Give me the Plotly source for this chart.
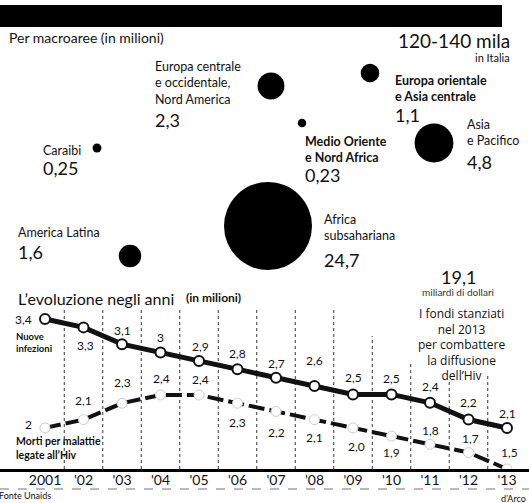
import plotly.graph_objects as go

W, H = 529, 503
FONT = "Lato"
INK = "#111111"

# People living with HIV by macro-area (millions)
regions = [
    ["Europa centrale", "e occidentale,", "Nord America"],
    ["Europa orientale", "e Asia centrale"],
    ["Caraibi"],
    ["Medio Oriente", "e Nord Africa"],
    ["Asia", "e Pacifico"],
    ["America Latina"],
    ["Africa", "subsahariana"],
]
people = [2.3, 1.1, 0.25, 0.23, 4.8, 1.6, 24.7]
bold_names = [False, True, False, True, False, False, False]

# Bubble placement on the map-like layout (page pixels)
bubble_x = [271, 370, 97, 302, 434, 130, 268]
bubble_y = [86, 73, 148, 123, 143, 256, 226]
# Label block placement: left x, vertical centre of the name block, y of the value
label_x = [153, 393, 41, 303, 465, 16, 322]
label_name_y = [83, 88, 150, 149.5, 132.5, 232, 227.5]
label_value_y = [120, 115, 168, 175, 162, 252, 260]

# Yearly trend (millions)
years = list(range(2001, 2014))
year_labels = ["2001"] + ["'%02d" % (y % 100) for y in years[1:]]
new_infections = [3.4, 3.3, 3.1, 3.0, 2.9, 2.8, 2.7, 2.6, 2.5, 2.5, 2.4, 2.2, 2.1]
aids_deaths = [2.0, 2.1, 2.3, 2.4, 2.4, 2.3, 2.2, 2.1, 2.0, 1.9, 1.8, 1.7, 1.5]
inf_decimals = [1, 1, 1, 0, 1, 1, 1, 1, 1, 1, 1, 1, 1]
death_decimals = [0, 1, 1, 1, 1, 1, 1, 1, 1, 1, 1, 1, 1]

# Value-label offsets from each point (pixels, +x right, +y down)
inf_dx = [-22, 2, 0, 0, 1, 0, 0, 0, 0, 0, 0, 0, 0]
inf_dy = [0, 18, -14, -15, -14, -16, -14, -26, -17, -16, -16, -17, -14]
death_dx = [-17, 0, 0, 1, 1, 0, 0, 0, 3, 0, 0, 2, 2]
death_dy = [-3, -19, -21, -17, -16, 19, 21, 18, 19, 16, -14, -14, -16]

# Heights (page pixels) where the dotted year separators stop
sep_tops = [310, 310, 310, 310, 310, 310, 310, 310, 336, 362, 382, 375]

# Funding note
funding_lines = ["I fondi stanziati", "nel 2013", "per combattere",
                 "la diffusione", "dell\u2019Hiv"]


def it(v, decimals=None):
    if decimals is None:
        s = f"{v:g}"
    else:
        s = f"{v:.{decimals}f}"
    return s.replace(".", ",")


def px(x, y):
    return x / W, 1 - y / H


BASE = 469  # baseline of the trend chart, page pixels

fig = go.Figure()

# Regional bubbles: area proportional to value
fig.add_trace(go.Scatter(
    x=bubble_x, y=bubble_y, mode="markers",
    xaxis="x2", yaxis="y3",
    marker=dict(size=people, sizemode="area", sizeref=24.7 / (2 * 44 ** 2),
                sizemin=2, color="#000000", opacity=1, line=dict(width=0)),
    hoverinfo="skip", showlegend=False,
))

# New infections
fig.add_trace(go.Scatter(
    x=years, y=new_infections, mode="lines+markers", xaxis="x", yaxis="y",
    line=dict(color=INK, width=5),
    marker=dict(size=10, color="white", opacity=1, line=dict(color=INK, width=2)),
    showlegend=False, hoverinfo="skip",
))

# AIDS-related deaths
fig.add_trace(go.Scatter(
    x=years, y=aids_deaths, mode="lines+markers", xaxis="x", yaxis="y2",
    line=dict(color=INK, width=4, dash="16px,5px"),
    marker=dict(size=10, color="white", opacity=1, line=dict(color="#cccccc", width=1)),
    showlegend=False, hoverinfo="skip",
))

annotations = []


def note(x, y, text, size, bold=False, anchor="left", color=INK, yanchor="middle",
         family=FONT, align="left"):
    ax, ay = px(x, y)
    t = f"<b>{text}</b>" if bold else text
    annotations.append(dict(
        x=ax, y=ay, xref="paper", yref="paper", text=t, showarrow=False,
        xanchor=anchor, yanchor=yanchor, align=align,
        font=dict(family=family, size=size, color=color),
    ))


# Header texts
note(7, 38, "Per macroaree (in milioni)", 14)
note(512, 40, "120-140 mila", 19, anchor="right")
note(512, 57, "in Italia", 11, anchor="right")

# Region labels and values
for names, val, lx, ny, vy, b in zip(regions, people, label_x, label_name_y,
                                     label_value_y, bold_names):
    note(lx, ny, "<br>".join(names), 12.5, bold=b)
    note(lx, vy, it(val), 18)

# Funding box
note(458, 277, "19,1", 18, anchor="center")
note(458, 292, "miliardi di dollari", 10, anchor="center", color="#333")
note(461, 303, "<br>".join(funding_lines), 12, anchor="center", yanchor="top",
     family="Open Sans", align="center")

# Trend chart titles and series names
note(16, 298, "L\u2019evoluzione negli anni", 16)
note(184, 297, "(in milioni)", 12, bold=True)
note(14, 342, "<b>Nuove<br>infezioni</b>", 9.5)
note(14, 448, "<b>Morti per malattie<br>legate all\u2019Hiv</b>", 10.5)

# Footer
note(-3, 495, "Fonte Unaids", 9)
note(528, 498, "d\u2019Arco", 9, anchor="right")

# Value labels tied to each point
for yr, v, d, dx, dy in zip(years, new_infections, inf_decimals, inf_dx, inf_dy):
    annotations.append(dict(
        x=yr, y=v, xref="x", yref="y", text=it(v, d), showarrow=False,
        xshift=dx, yshift=-dy, xanchor="center", yanchor="middle",
        font=dict(family=FONT, size=12, color=INK),
    ))
for yr, v, d, dx, dy in zip(years, aids_deaths, death_decimals, death_dx, death_dy):
    annotations.append(dict(
        x=yr, y=v, xref="x", yref="y2", text=it(v, d), showarrow=False,
        xshift=dx, yshift=-dy, xanchor="center", yanchor="middle",
        font=dict(family=FONT, size=12, color=INK),
    ))

shapes = []
# Black header band
x0, y1 = px(0, 5)
x1, y0 = px(502, 27)
shapes.append(dict(type="rect", xref="paper", yref="paper", x0=x0, x1=x1,
                   y0=y0, y1=y1, fillcolor="#000", line=dict(width=0)))
# Dotted separators between years
for yr, top in zip(years[:-1], sep_tops):
    _, yb = px(0, BASE)
    _, yt = px(0, top)
    shapes.append(dict(type="line", xref="x", yref="paper", x0=yr + 0.5, x1=yr + 0.5,
                       y0=yb, y1=yt, layer="below",
                       line=dict(color="#333", width=1, dash="dot")))
# Thin rule under the year labels
_, yr_rule = px(0, 489)
shapes.append(dict(type="line", xref="paper", yref="paper", x0=0, x1=1,
                   y0=yr_rule, y1=yr_rule, line=dict(color="#777", width=1, dash="dash")))

# Axis geometry: 2001 at x=45px, 38.5px per year; y scales in px per million
x_lo = 2001 - 45 / 38.5
x_hi = 2001 + (W - 45) / 38.5
dom_lo = 1 - BASE / H
inf_scale = 83.8
y_lo = 3.4 - (BASE - 319) / inf_scale
y_hi = 3.4 + 319 / inf_scale
d_scale = 82.2
d_lo = 2.4 - (BASE - 395) / d_scale
d_hi = 2.4 + 395 / d_scale

fig.update_layout(
    width=W, height=H,
    margin=dict(l=0, r=0, t=0, b=0),
    paper_bgcolor="white", plot_bgcolor="rgba(0,0,0,0)",
    showlegend=False,
    xaxis=dict(domain=[0, 1], range=[x_lo, x_hi], anchor="y",
               tickmode="array", tickvals=years, ticktext=year_labels,
               showgrid=False, zeroline=False, showline=True, linecolor="#000",
               linewidth=3, ticks="", ticklabelstandoff=-4,
               tickfont=dict(family=FONT, size=14, color=INK), layer="below traces"),
    yaxis=dict(domain=[dom_lo, 1], range=[y_lo, y_hi], visible=False),
    yaxis2=dict(domain=[dom_lo, 1], range=[d_lo, d_hi], overlaying="y",
                anchor="x", visible=False),
    xaxis2=dict(domain=[0, 1], range=[0, W], anchor="y3", visible=False),
    yaxis3=dict(domain=[0, 1], range=[H, 0], anchor="x2", visible=False),
    annotations=annotations,
    shapes=shapes,
)

fig.write_html("out.html")
